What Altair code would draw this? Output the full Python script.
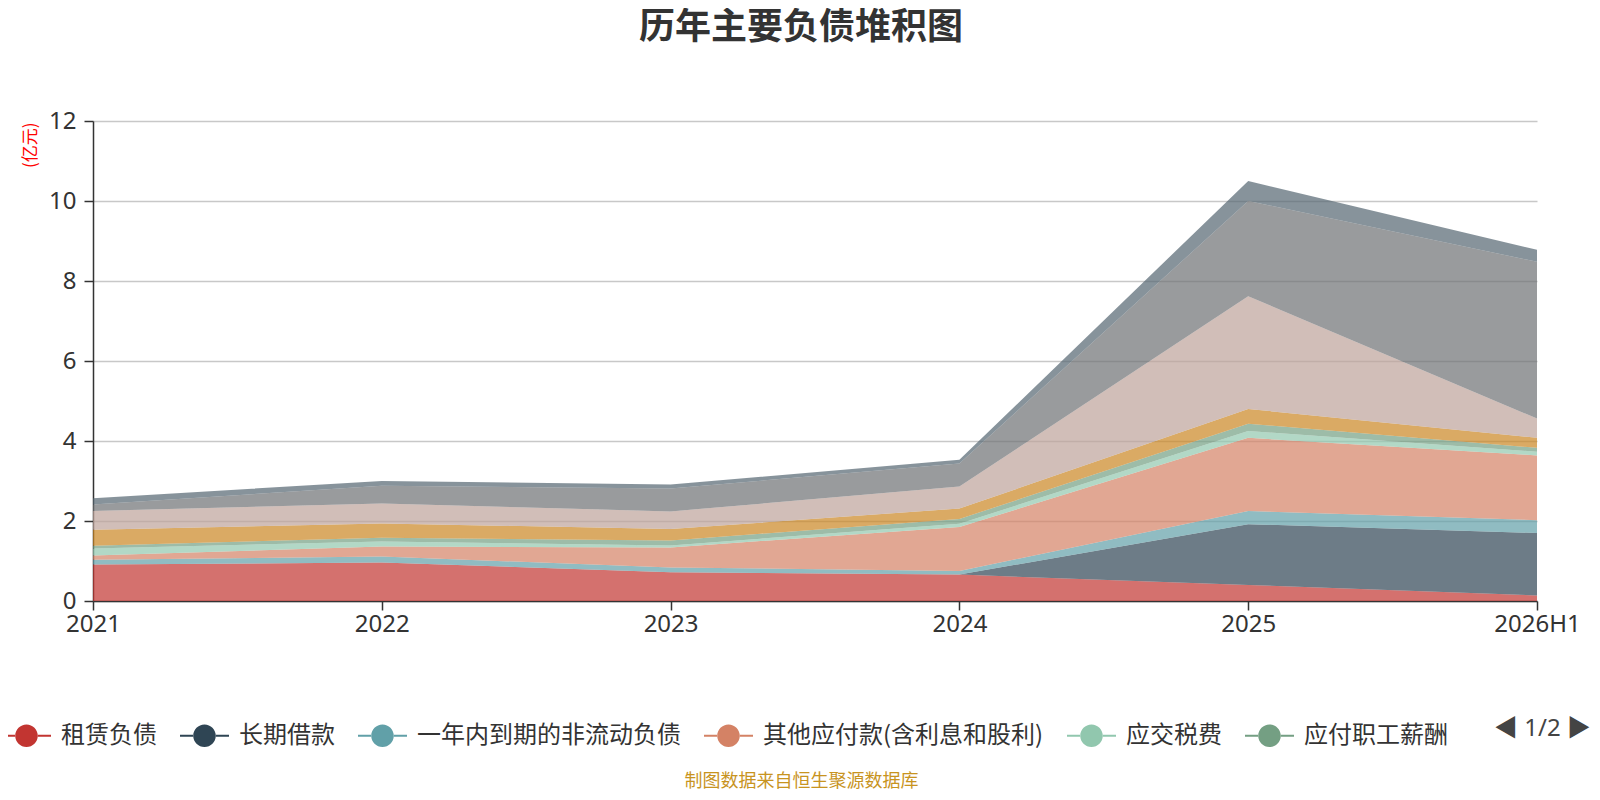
import altair as alt
import pandas as pd

years = ["2021", "2022", "2023", "2024", "2025", "2026H1"]

names = ["租赁负债", "长期借款", "一年内到期的非流动负债", "其他应付款(含利息和股利)",
         "应交税费", "应付职工薪酬", "合同负债", "应付账款", "应付票据", "短期借款"]
colors = ["#c23531", "#2f4554", "#61a0a8", "#d48265", "#91c7ae",
          "#749f83", "#ca8622", "#bda29a", "#6e7074", "#546570"]

lease      = [0.91, 0.96, 0.72, 0.66, 0.40, 0.14]
lt_loan    = [0.00, 0.00, 0.00, 0.00, 1.52, 1.56]
current_nc = [0.12, 0.15, 0.12, 0.09, 0.33, 0.32]
other_pay  = [0.11, 0.25, 0.50, 1.10, 1.83, 1.62]
tax        = [0.17, 0.13, 0.05, 0.08, 0.17, 0.09]
salary     = [0.07, 0.09, 0.12, 0.12, 0.18, 0.10]
contract   = [0.40, 0.36, 0.29, 0.26, 0.37, 0.25]
payable    = [0.47, 0.50, 0.44, 0.55, 2.82, 0.48]
notes      = [0.16, 0.44, 0.57, 0.58, 2.38, 3.92]
short_loan = [0.16, 0.12, 0.10, 0.09, 0.50, 0.30]

series = [lease, lt_loan, current_nc, other_pay, tax, salary,
          contract, payable, notes, short_loan]

rows = []
for i, (n, vals) in enumerate(zip(names, series)):
    for y, v in zip(years, vals):
        rows.append({"name": n, "year": y, "value": v, "order": i})
df = pd.DataFrame(rows)

FONT = "Noto Sans, Noto Sans CJK SC"
CJK = "Noto Sans CJK SC"

legend_path = ("M-1,-0.041L-0.45,-0.041L-0.45,0.041L-1,0.041Z"
               "M0.45,-0.041L1,-0.041L1,0.041L0.45,0.041Z"
               "M-0.46,0A0.46,0.46,0,1,0,0.46,0A0.46,0.46,0,1,0,-0.46,0Z")

chart = alt.Chart(df).mark_area(opacity=0.7).encode(
    x=alt.X("year:O", sort=years,
            scale=alt.Scale(type="point", padding=0),
            axis=alt.Axis(labelAngle=0, labelFontSize=24, labelColor="#333",
                          labelFont=FONT, domainColor="#333", domainWidth=1.5,
                          tickColor="#333", tickSize=9, tickWidth=1.5,
                          labelPadding=2, grid=False,
                          title="制图数据来自恒生聚源数据库",
                          titleFont=CJK, titleFontSize=18,
                          titleFontWeight="normal", titleColor="#c8941f",
                          titleX=708, titleY=180, titleAlign="center",
                          titleBaseline="middle")),
    y=alt.Y("value:Q", stack="zero",
            scale=alt.Scale(domain=[0, 12], nice=False),
            axis=alt.Axis(values=[0, 2, 4, 6, 8, 10, 12], labelFontSize=24,
                          labelColor="#333", labelFont=FONT,
                          domainColor="#333", domainWidth=1.5,
                          tickColor="#333", tickSize=9, tickWidth=1.5,
                          gridColor="#c8c8c8", gridWidth=1.5, labelPadding=8,
                          title="(亿元)", titleFont=CJK, titleFontSize=17,
                          titleFontWeight="normal", titleColor="#ff0000",
                          titleAnchor="end", titleAlign="right",
                          titleX=-63, titleY=1, titleBaseline="middle")),
    color=alt.Color("name:N",
                    scale=alt.Scale(domain=names, range=colors),
                    legend=alt.Legend(
                        orient="none", legendX=-91, legendY=590,
                        direction="horizontal", values=names[:6],
                        symbolType=legend_path, symbolSize=2401,
                        symbolStrokeWidth=0, symbolOpacity=1,
                        labelFont=CJK, labelFontSize=24, labelColor="#333",
                        labelOffset=10, labelLimit=400, columnPadding=23,
                        title="◀ 1/2 ▶", titleOrient="right",
                        titleAnchor="middle",
                        titleFont=FONT, titleFontSize=24,
                        titleFontWeight="normal", titleColor="#444",
                        titlePadding=46)),
    order=alt.Order("order:Q"),
).properties(
    width=1444, height=480,
    title=alt.Title("历年主要负债堆积图", fontSize=36, fontWeight="bold",
                    color="#333", font=CJK, anchor="middle", offset=62,
                    dx=-14),
    padding={"left": 85, "top": 113, "right": 55, "bottom": 191},
    autosize=alt.AutoSizeParams(type="none"),
).configure_view(strokeWidth=0)

chart.save("out.html", embed_options={"renderer": "svg", "actions": False})
